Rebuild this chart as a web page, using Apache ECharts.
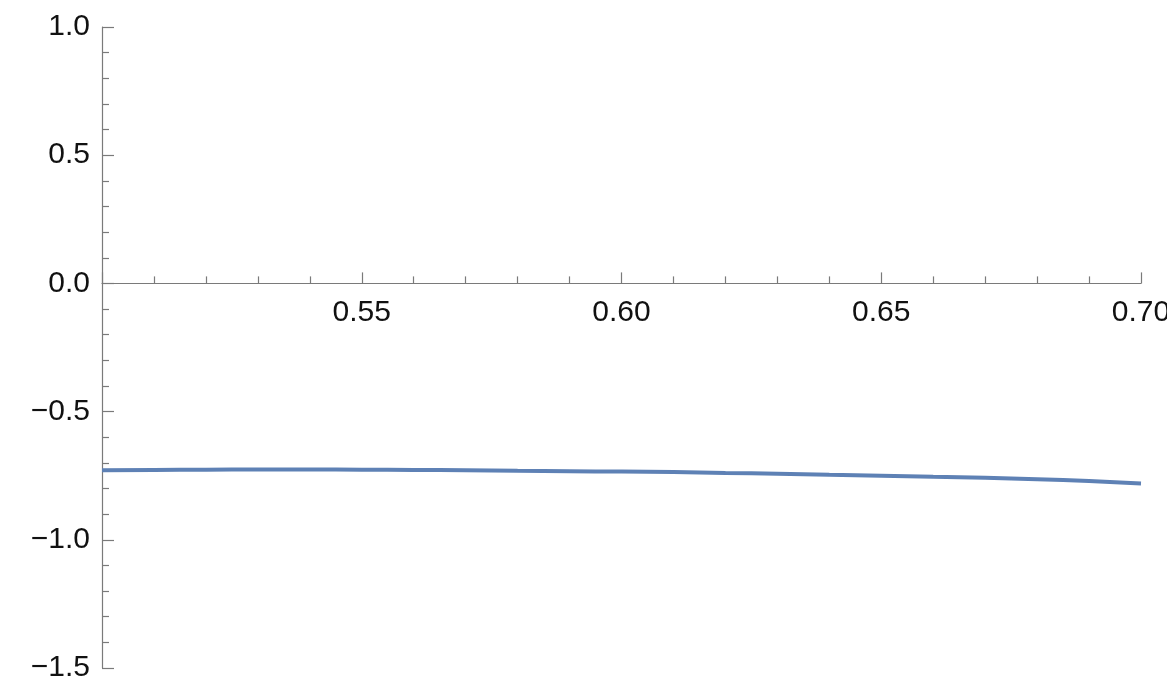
<!DOCTYPE html>
<html>
<head>
<meta charset="utf-8">
<script src="https://cdn.jsdelivr.net/npm/echarts@6/dist/echarts.min.js"></script>
<style>
  html, body { margin: 0; padding: 0; background: #ffffff; }
  #chart { width: 1167px; height: 684px; }
</style>
</head>
<body>
<div id="chart"></div>
<script>
// Sampled curve: x positions and function values
const xValues = [0.50, 0.51, 0.52, 0.53, 0.54, 0.55, 0.56, 0.57, 0.58, 0.59, 0.60,
                 0.61, 0.62, 0.63, 0.64, 0.65, 0.66, 0.67, 0.68, 0.69, 0.70];
const yValues = [-0.729, -0.7275, -0.7265, -0.726, -0.726, -0.7265, -0.7275, -0.729, -0.731, -0.7325, -0.734,
                 -0.736, -0.739, -0.742, -0.746, -0.750, -0.754, -0.758, -0.7635, -0.7705, -0.780];

// Axis ranges and tick spacing
const xRange = [0.5, 0.7];
const xStep = 0.05;
const yRange = [-1.5, 1.0];
const yStep = 0.5;

const points = xValues.map((x, i) => [x, yValues[i]]);

// Plot area geometry (pixels)
const gridTop = 27;
const gridBottom = 16;
const plotHeight = 684 - gridTop - gridBottom;
// Horizontal axis crosses the vertical axis at y = 0
const zeroOffset = plotHeight * (0 - yRange[0]) / (yRange[1] - yRange[0]);

const axisColor = '#7a7a7a';
const labelFont = {
  color: '#111111',
  fontSize: 30,
  fontFamily: '"Liberation Sans", Arial, Helvetica, sans-serif'
};

const chart = echarts.init(document.getElementById('chart'), null, { renderer: 'canvas' });

chart.setOption({
  animation: false,
  backgroundColor: '#ffffff',
  grid: {
    left: 102, right: 26, top: gridTop, bottom: gridBottom,
    containLabel: false,
    outerBoundsMode: 'none'
  },
  xAxis: {
    type: 'value',
    position: 'bottom',
    offset: -zeroOffset,
    min: xRange[0],
    max: xRange[1],
    interval: xStep,
    axisLine: { show: true, onZero: false, lineStyle: { color: axisColor, width: 1.2 } },
    axisTick: { show: true, inside: true, length: 11, lineStyle: { color: axisColor, width: 1.2 } },
    minorTick: { show: true, splitNumber: 5, length: 7, lineStyle: { color: axisColor, width: 1.2 } },
    splitLine: { show: false },
    minorSplitLine: { show: false },
    axisLabel: Object.assign({
      margin: 14,
      showMinLabel: false,
      hideOverlap: false,
      formatter: v => v.toFixed(2)
    }, labelFont)
  },
  yAxis: {
    type: 'value',
    min: yRange[0],
    max: yRange[1],
    interval: yStep,
    axisLine: { show: true, onZero: false, lineStyle: { color: axisColor, width: 1.2 } },
    axisTick: { show: true, inside: true, length: 12, lineStyle: { color: axisColor, width: 1.2 } },
    minorTick: { show: true, splitNumber: 5, length: 7, lineStyle: { color: axisColor, width: 1.2 } },
    splitLine: { show: false },
    minorSplitLine: { show: false },
    axisLabel: Object.assign({
      margin: 12,
      formatter: v => (v < 0 ? '\u2212' + Math.abs(v).toFixed(1) : v.toFixed(1))
    }, labelFont)
  },
  series: [{
    type: 'line',
    data: points,
    smooth: true,
    showSymbol: false,
    clip: true,
    lineStyle: { color: '#5e81b5', width: 4 }
  }]
});
</script>
</body>
</html>
